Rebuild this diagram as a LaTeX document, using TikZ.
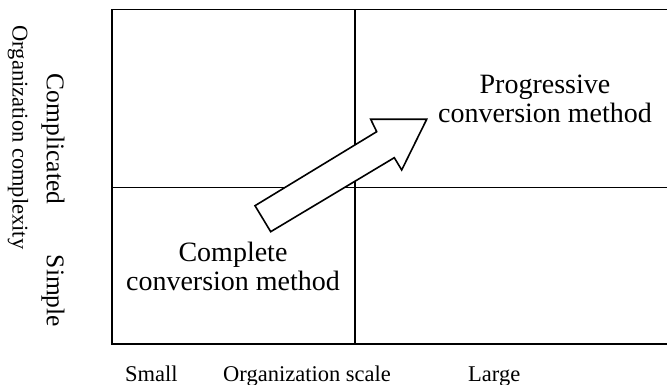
\documentclass[tikz,border=0pt]{standalone}
\usepackage{fontspec}
\setmainfont{Liberation Serif}
\begin{document}
\begin{tikzpicture}[x=1pt,y=-1pt,
  gridline/.style={line width=1.6pt,black},
  bigarrow/.style={line width=1.6pt,black,fill=white,line join=miter},
  axislabel/.style={inner sep=0pt,font=\fontsize{22.5}{24}\selectfont},
  sidelabel/.style={inner sep=0pt,font=\fontsize{25.5}{27}\selectfont},
  methodlabel/.style={inner sep=0pt,align=center,font=\fontsize{28}{29.5}\selectfont}]
\useasboundingbox (0,0) rectangle (667,385);
% frame and quadrant lines
\draw[gridline] (112,9.5) rectangle (672,344);
\draw[gridline] (112,187.5) -- (672,187.5);
\draw[gridline] (355,9.5) -- (355,344);
% big hollow arrow
\draw[bigarrow] (255,205.7) -- (270.7,231.7) -- (394.3,157.7) -- (401.7,170)
  -- (426.7,119.3) -- (370.7,119.3) -- (376.7,131.7) -- cycle;
% method labels
\node[methodlabel] (complete) at (233,266.5) {Complete\\conversion method};
\node[methodlabel] (progressive) at (545,99) {Progressive\\conversion method};
% vertical axis labels
\node[axislabel,rotate=-90] (ycap) at (18,137.5) {Organization complexity};
\node[sidelabel,rotate=-90] (complicated) at (53,139) {Complicated};
\node[sidelabel,rotate=-90] (simple) at (53,291) {Simple};
% horizontal axis labels
\node[axislabel,anchor=base west] (small) at (125,381) {Small};
\node[axislabel,anchor=base west] (xcap) at (223,381) {Organization scale};
\node[axislabel,anchor=base west] (large) at (468,381) {Large};
\end{tikzpicture}
\end{document}
